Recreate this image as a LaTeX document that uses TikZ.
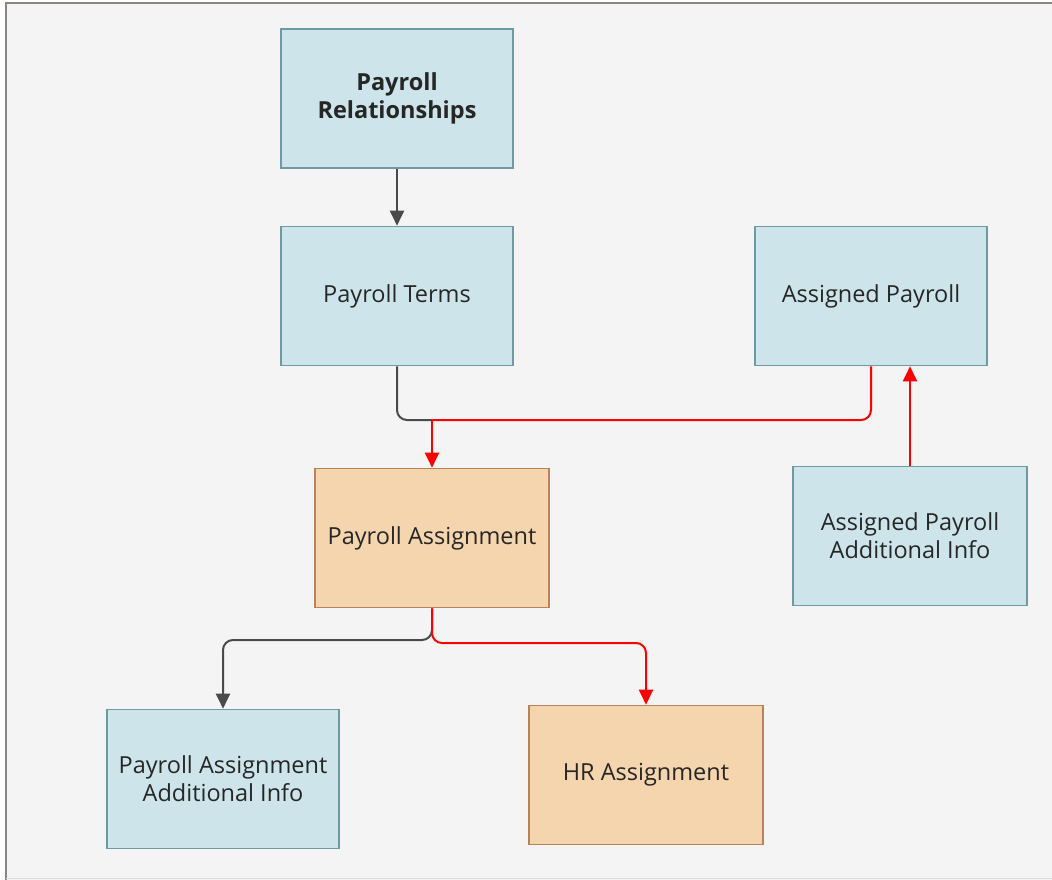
\documentclass[tikz,border=0pt]{standalone}
\usepackage{fontspec}
\setmainfont{Open Sans}
\usetikzlibrary{arrows.meta}
\definecolor{bgc}{HTML}{F4F4F4}
\definecolor{frm}{HTML}{8A8682}
\definecolor{bluef}{HTML}{CDE5EA}
\definecolor{blued}{HTML}{6E9AA3}
\definecolor{orf}{HTML}{F5D5AD}
\definecolor{ord}{HTML}{BA8258}
\definecolor{gry}{HTML}{4A4A4A}
\definecolor{rd}{HTML}{FF0000}
\begin{document}
\begin{tikzpicture}[x=1pt,y=-1pt,
  box/.style={draw=blued,fill=bluef,line width=1.6pt,minimum width=232pt,minimum height=139pt,align=center,font=\fontsize{23.5}{28}\selectfont,text=black!85,inner sep=0pt},
  obox/.style={box,draw=ord,fill=orf,minimum width=234pt},
  garr/.style={draw=gry,line width=2pt,-{Triangle[width=14pt,length=15pt]},rounded corners=10pt},
  rarr/.style={draw=rd,line width=2pt,-{Triangle[width=14pt,length=15pt]},rounded corners=10pt},
  gln/.style={draw=gry,line width=2pt,rounded corners=10pt},
  rln/.style={draw=rd,line width=2pt,rounded corners=10pt}]
\useasboundingbox (0,0) rectangle (1052,880);
\fill[bgc] (6,3) rectangle (1052,880);
\draw[frm,line width=2pt] (6,880) -- (6,3) -- (1052,3);
\draw[black!15,line width=1pt] (6,878.5) -- (1052,878.5);

\node[box,font=\bfseries\fontsize{23.5}{28}\selectfont] (pr) at (397,98.5) {Payroll\\Relationships};
\node[box] (pt) at (397,296) {Payroll Terms};
\node[box] (ap) at (871,296) {Assigned Payroll};
\node[obox] (pa) at (432,538) {Payroll Assignment};
\node[box,minimum width=234pt] (apai) at (910,536) {Assigned Payroll\\Additional Info};
\node[box] (paai) at (223,779) {Payroll Assignment\\Additional Info};
\node[obox] (hr) at (646,775) {HR Assignment};

\coordinate (j1) at (432,420);
\coordinate (jg) at (432,640);
\coordinate (jr) at (432,643);

\draw[garr] (pr.south) -- (pt.north);
\draw[gln] (pt.south) |- (j1);
\draw[rln] (ap.south) |- (j1);
\draw[rarr] (j1) -- (pa.north);
\draw[rarr] (apai.north) -- (apai.north |- ap.south);
\draw[garr] (pa.south) -- (jg) -| (paai.north);
\draw[rarr] (pa.south) -- (jr) -| (hr.north);
\end{tikzpicture}
\end{document}
